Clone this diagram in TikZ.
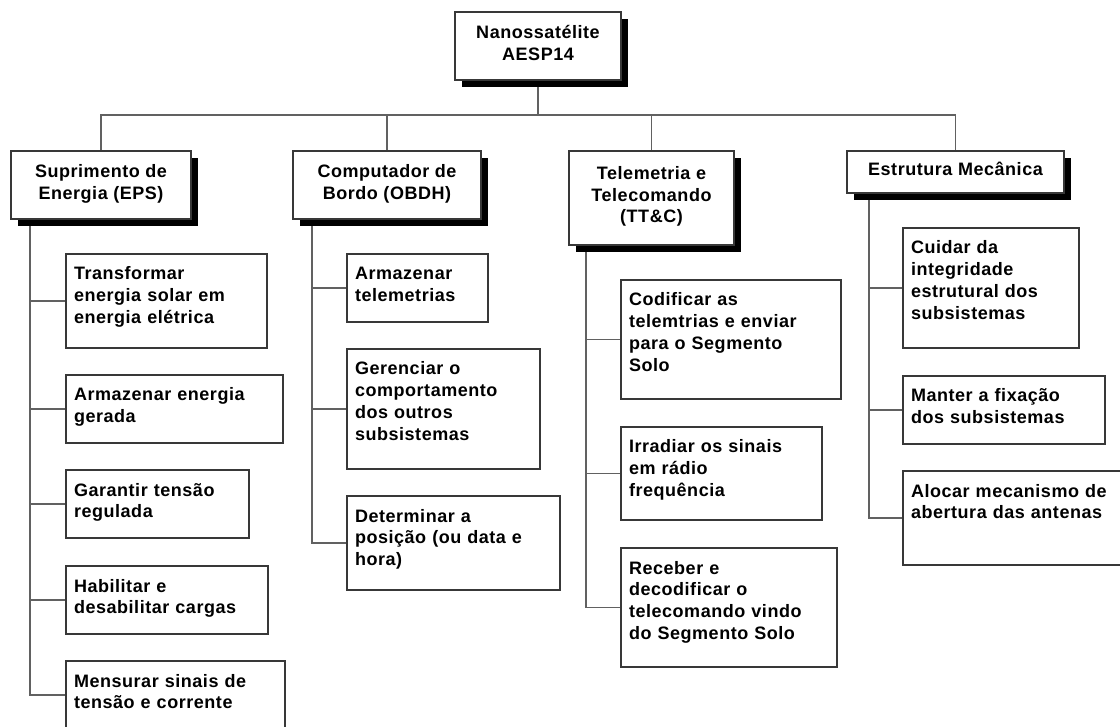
\documentclass[tikz,border=0pt]{standalone}
\usepackage{fontspec}
\newfontfamily\diagfont{Liberation Sans Bold}[LetterSpace=3]
\usetikzlibrary{backgrounds,shadows}
\definecolor{boxline}{gray}{0.22}
\definecolor{linkgray}{gray}{0.38}

\begin{document}
\begin{tikzpicture}[x=1pt,y=-1pt]
\tikzset{
  basebox/.style={draw=boxline,line width=1.1pt,fill=white,anchor=north west,outer sep=0pt,
    font=\diagfont\fontsize{18}{21.7}\selectfont},
  groupbox/.style={basebox,align=center,inner sep=0pt,text depth=6pt,
    drop shadow={shadow xshift=7pt,shadow yshift=-7pt,fill=black,opacity=1}},
  leafbox/.style 2 args={basebox,align=left,inner xsep=8pt,inner ysep=0pt,
    text height=26pt,text width=#1,text depth=#2},
  link/.style={draw=linkgray,line width=1.2pt}
}
\clip (0,0) rectangle (1120,727);
% top
\node[groupbox,minimum width=166pt,minimum height=68pt,text height=34.2pt] (n_sat) at (455,12) {Nanossatélite\\AESP14};
% subsystems
\node[groupbox,minimum width=180pt,minimum height=68pt,text height=34.2pt] (n_eps) at (11,151) {Suprimento de\\Energia (EPS)};
\node[groupbox,minimum width=188pt,minimum height=68pt,text height=34.2pt] (n_obdh) at (293,151) {Computador de\\Bordo (OBDH)};
\node[groupbox,minimum width=165pt,minimum height=94pt,text height=55.9pt] (n_ttc) at (569,151) {Telemetria e\\Telecomando\\(TT\&C)};
\node[groupbox,minimum width=217pt,minimum height=42pt,text height=12.5pt] (n_est) at (847,151) {Estrutura Mecânica};
% EPS
\node[leafbox={185pt}{68pt}] (n_eps1) at (66,254) {Transformar\\energia solar em\\energia elétrica};
\node[leafbox={201pt}{42pt}] (n_eps2) at (66,375) {Armazenar energia\\gerada};
\node[leafbox={167pt}{42pt}] (n_eps3) at (66,470) {Garantir tensão\\regulada};
\node[leafbox={186pt}{42pt}] (n_eps4) at (66,566) {Habilitar e\\desabilitar cargas};
\node[leafbox={203pt}{42pt}] (n_eps5) at (66,661) {Mensurar sinais de\\tensão e corrente};
% OBDH
\node[leafbox={125pt}{42pt}] (n_obdh1) at (347,254) {Armazenar\\telemetrias};
\node[leafbox={177pt}{94pt}] (n_obdh2) at (347,349) {Gerenciar o\\comportamento\\dos outros\\subsistemas};
\node[leafbox={197pt}{68pt}] (n_obdh3) at (347,496) {Determinar a\\posição (ou data e\\hora)};
% TT&C
\node[leafbox={204pt}{93pt}] (n_ttc1) at (621,280) {Codificar as\\telemtrias e enviar\\para o Segmento\\Solo};
\node[leafbox={185pt}{67pt}] (n_ttc2) at (621,427) {Irradiar os sinais\\em rádio\\frequência};
\node[leafbox={200pt}{93pt}] (n_ttc3) at (621,548) {Receber e\\decodificar o\\telecomando vindo\\do Segmento Solo};
% estrutura
\node[leafbox={160pt}{94pt}] (n_est1) at (903,228) {Cuidar da\\integridade\\estrutural dos\\subsistemas};
\node[leafbox={186pt}{42pt}] (n_est2) at (903,376) {Manter a fixação\\dos subsistemas};
\node[leafbox={214pt}{68pt}] (n_est3) at (903,471) {Alocar mecanismo de\\abertura das antenas};
% trunks
\coordinate (t_eps) at ([xshift=19pt]n_eps.south west);
\coordinate (t_obdh) at ([xshift=19pt]n_obdh.south west);
\coordinate (t_ttc) at ([xshift=17pt]n_ttc.south west);
\coordinate (t_est) at ([xshift=22pt]n_est.south west);
\begin{scope}[on background layer]
\draw[link] (n_sat.south) -- ++(0,35) -| (n_eps.north);
\draw[link] (n_sat.south) -- ++(0,35) -| (n_obdh.north);
\draw[link] (n_sat.south) -- ++(0,35) -| (n_ttc.north);
\draw[link] (n_sat.south) -- ++(0,35) -| (n_est.north);
\draw[link] (t_eps) |- (n_eps1.west);
\draw[link] (t_eps) |- (n_eps2.west);
\draw[link] (t_eps) |- (n_eps3.west);
\draw[link] (t_eps) |- (n_eps4.west);
\draw[link] (t_eps) |- (n_eps5.west);
\draw[link] (t_obdh) |- (n_obdh1.west);
\draw[link] (t_obdh) |- (n_obdh2.west);
\draw[link] (t_obdh) |- (n_obdh3.west);
\draw[link] (t_ttc) |- (n_ttc1.west);
\draw[link] (t_ttc) |- (n_ttc2.west);
\draw[link] (t_ttc) |- (n_ttc3.west);
\draw[link] (t_est) |- (n_est1.west);
\draw[link] (t_est) |- (n_est2.west);
\draw[link] (t_est) |- (n_est3.west);
\end{scope}
\end{tikzpicture}
\end{document}
